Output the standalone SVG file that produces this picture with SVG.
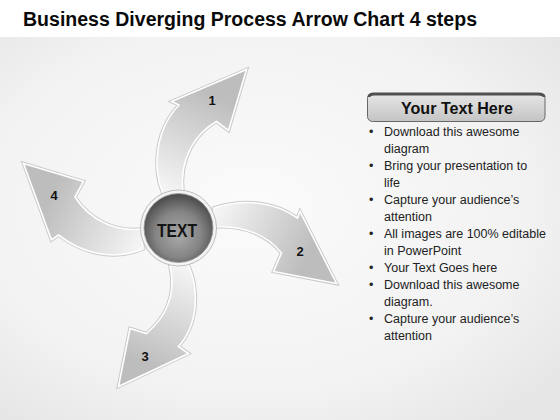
<svg xmlns="http://www.w3.org/2000/svg" width="560" height="420" viewBox="0 0 560 420">
<defs>
<radialGradient id="bg" cx="45%" cy="45%" r="70%">
<stop offset="0" stop-color="#fbfbfb"/>
<stop offset="0.7" stop-color="#f2f2f2"/>
<stop offset="1" stop-color="#e6e6e6"/>
</radialGradient>
<linearGradient id="g1" gradientUnits="userSpaceOnUse" x1="172" y1="192" x2="215" y2="95">
<stop offset="0" stop-color="#f4f4f4"/><stop offset="1" stop-color="#bdbdbd"/>
</linearGradient>
<linearGradient id="g2" gradientUnits="userSpaceOnUse" x1="215" y1="217" x2="305" y2="262">
<stop offset="0" stop-color="#f4f4f4"/><stop offset="1" stop-color="#bdbdbd"/>
</linearGradient>
<linearGradient id="g3" gradientUnits="userSpaceOnUse" x1="182" y1="266" x2="140" y2="362">
<stop offset="0" stop-color="#f4f4f4"/><stop offset="1" stop-color="#bdbdbd"/>
</linearGradient>
<linearGradient id="g4" gradientUnits="userSpaceOnUse" x1="142" y1="240" x2="50" y2="195">
<stop offset="0" stop-color="#f4f4f4"/><stop offset="1" stop-color="#bdbdbd"/>
</linearGradient>
<radialGradient id="ball" cx="50%" cy="58%" r="55%" fx="50%" fy="62%">
<stop offset="0" stop-color="#a8a8a8"/>
<stop offset="0.6" stop-color="#858585"/>
<stop offset="1" stop-color="#4f4f4f"/>
</radialGradient>
<linearGradient id="bar" x1="0" y1="0" x2="0" y2="1">
<stop offset="0" stop-color="#e6e6e6"/><stop offset="1" stop-color="#c4c4c4"/>
</linearGradient>
<path id="p1" d="M 163,194 C 151,165 157,128 179,105 L 171.5,101.5 L 246.5,69.5 L 228.5,130.5 L 216.5,121.5 C 196,133 179,158 183,193 Z"/>
<path id="p2" d="M 214,208 C 245,198 275,202 297.5,218 L 300,211.5 L 336.5,283.5 L 273.5,271.5 L 281.5,253 C 268,236 245,225 214,227 Z"/>
<path id="p3" d="M 188,264 C 200,290 198,325 178.5,346.5 L 188.5,353.5 L 118.5,386.5 L 130,328.5 L 146.5,333.5 C 165,318 177,295 170,266 Z"/>
<path id="p4" d="M 142,229 C 115,232 90,220 75,197 L 83.5,181.5 L 23.5,163.5 L 51.5,240 L 58.5,235 C 80,252 112,262 143,249 Z"/>
</defs>
<style>
.edge{fill:none;stroke:#c9c9c9;stroke-width:3.5;stroke-linejoin:miter}
.face{stroke:#ffffff;stroke-width:1.6;stroke-linejoin:miter}
.num{font-family:"Liberation Sans",Arial,sans-serif;font-weight:bold;font-size:13px;fill:#111;text-anchor:middle}
.bl{font-family:"Liberation Sans",Arial,sans-serif;font-size:12.5px;fill:#222}
</style>
<rect width="560" height="420" fill="#ffffff"/>
<rect y="37" width="560" height="383" fill="url(#bg)"/>
<text x="23" y="26" font-family="Liberation Sans, Arial, sans-serif" font-weight="bold" font-size="19.5" fill="#0a0a0a" textLength="454" lengthAdjust="spacingAndGlyphs">Business Diverging Process Arrow Chart 4 steps</text>
<g id="connectors">
<g id="arrow1"><use href="#p1" class="edge"/><use href="#p1" class="face" fill="url(#g1)"/><text class="num" x="212" y="105">1</text></g>
<g id="arrow2"><use href="#p2" class="edge"/><use href="#p2" class="face" fill="url(#g2)"/><text class="num" x="300" y="256">2</text></g>
<g id="arrow3"><use href="#p3" class="edge"/><use href="#p3" class="face" fill="url(#g3)"/><text class="num" x="145" y="361">3</text></g>
<g id="arrow4"><use href="#p4" class="edge"/><use href="#p4" class="face" fill="url(#g4)"/><text class="num" x="54" y="200">4</text></g>
</g>
<g id="center">
<circle cx="178.5" cy="228" r="38" fill="#f4f4f4" stroke="#bdbdbd" stroke-width="1"/>
<circle cx="178.5" cy="228" r="34.5" fill="url(#ball)" stroke="#9a9a9a" stroke-width="0.8"/>
<text x="177" y="237" font-family="Liberation Sans, Arial, sans-serif" font-weight="bold" font-size="17.5" fill="#151515" text-anchor="middle" textLength="40" lengthAdjust="spacingAndGlyphs">TEXT</text>
</g>
<g id="header">
<rect x="367.5" y="93.5" width="177.5" height="28" rx="5" fill="url(#bar)" stroke="#666" stroke-width="1"/>
<path d="M 369,97 Q 369,94 374,94 L 538,94 Q 544,94 544,97" fill="none" stroke="#505050" stroke-width="3"/>
<text x="457" y="113.5" font-family="Liberation Sans, Arial, sans-serif" font-weight="bold" font-size="16.5" fill="#111" text-anchor="middle" textLength="112" lengthAdjust="spacingAndGlyphs">Your Text Here</text>
</g>
<g id="bullets">
<text class="bl" x="369" y="136">•</text><text class="bl" x="384" y="136">Download this awesome</text>
<text class="bl" x="384" y="153">diagram</text>
<text class="bl" x="369" y="170">•</text><text class="bl" x="384" y="170">Bring your presentation to</text>
<text class="bl" x="384" y="187">life</text>
<text class="bl" x="369" y="204">•</text><text class="bl" x="384" y="204">Capture your audience’s</text>
<text class="bl" x="384" y="221">attention</text>
<text class="bl" x="369" y="238">•</text><text class="bl" x="384" y="238">All images are 100% editable</text>
<text class="bl" x="384" y="255">in PowerPoint</text>
<text class="bl" x="369" y="272">•</text><text class="bl" x="384" y="272">Your Text Goes here</text>
<text class="bl" x="369" y="289">•</text><text class="bl" x="384" y="289">Download this awesome</text>
<text class="bl" x="384" y="306">diagram.</text>
<text class="bl" x="369" y="323">•</text><text class="bl" x="384" y="323">Capture your audience’s</text>
<text class="bl" x="384" y="340">attention</text>
</g>
</svg>
